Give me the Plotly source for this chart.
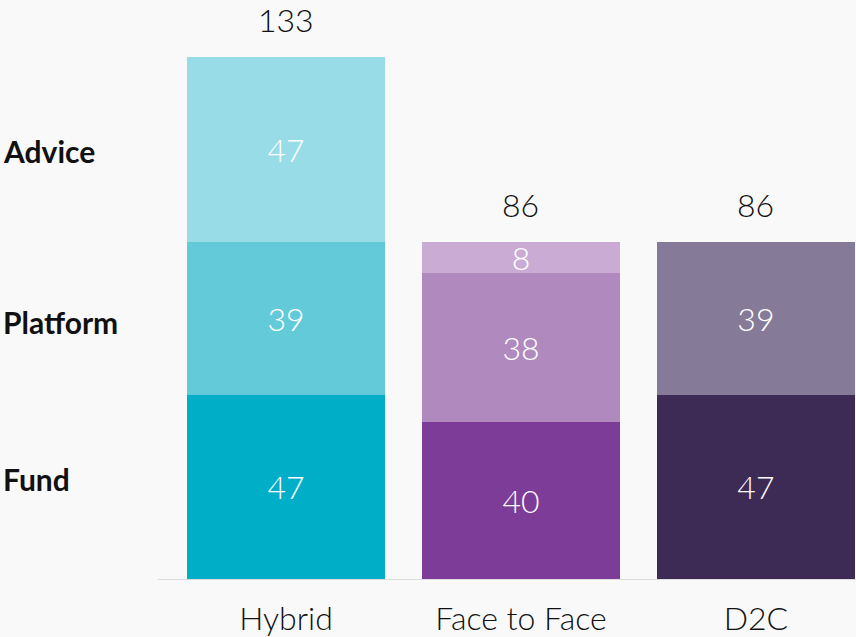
import plotly.graph_objects as go

categories = ["Hybrid", "Face to Face", "D2C"]
fund = [47, 40, 47]
platform = [39, 38, 39]
advice = [47, 8, None]
totals = [133, 86, 86]
row_labels = ["Fund", "Platform", "Advice"]

fund_colors = ["#00aec7", "#7d3c98", "#3d2b56"]
platform_colors = ["#63cad9", "#b089bf", "#857b98"]
advice_colors = ["#97dce6", "#c9abd4", "#857b98"]

W, H = 856, 637
ML, MR, MT, MB = 158, 0, 10, 58
num_font = dict(family="Lato", size=32, color="white", weight=300)

fig = go.Figure()
for name, vals, cols in [("Fund", fund, fund_colors),
                         ("Platform", platform, platform_colors),
                         ("Advice", advice, advice_colors)]:
    fig.add_trace(go.Bar(
        x=categories, y=vals, name=name,
        marker=dict(color=cols, line=dict(width=0)),
        text=[str(v) if v else "" for v in vals],
        textposition="inside", insidetextanchor="middle", textangle=0,
        textfont=num_font, constraintext="none",
        hoverinfo="skip",
    ))

for c, t in zip(categories, totals):
    fig.add_annotation(x=c, y=t, xref="x", yref="y", text=str(t),
                       showarrow=False, yanchor="bottom", yshift=16,
                       font=dict(family="Lato", size=32, color="#111", weight=300))

# row labels on the left
row_y = [25.5, 65.5, 109]
for lab, yv in zip(row_labels, row_y):
    fig.add_annotation(x=(1 - ML) / (W - ML - MR), y=yv, xref="paper", yref="y",
                       text=lab, showarrow=False, xanchor="left", yanchor="middle",
                       font=dict(family="Lato", size=30, color="#111", weight=700))

fig.update_layout(
    width=W, height=H,
    margin=dict(l=ML, r=MR, t=MT, b=MB, autoexpand=False),
    barmode="stack", bargap=0.16,
    showlegend=False,
    paper_bgcolor="#f9f9f9", plot_bgcolor="#f9f9f9",
    xaxis=dict(range=[-0.545, 2.426], showline=True, linecolor="#dddddd", linewidth=1,
               showgrid=False, zeroline=False, ticks="", ticklabelstandoff=12,
               automargin=False,
               tickfont=dict(family="Lato", size=32, color="#111", weight=300)),
    yaxis=dict(range=[0, 145], visible=False, showgrid=False, zeroline=False),
)

fig.write_html("out.html")
